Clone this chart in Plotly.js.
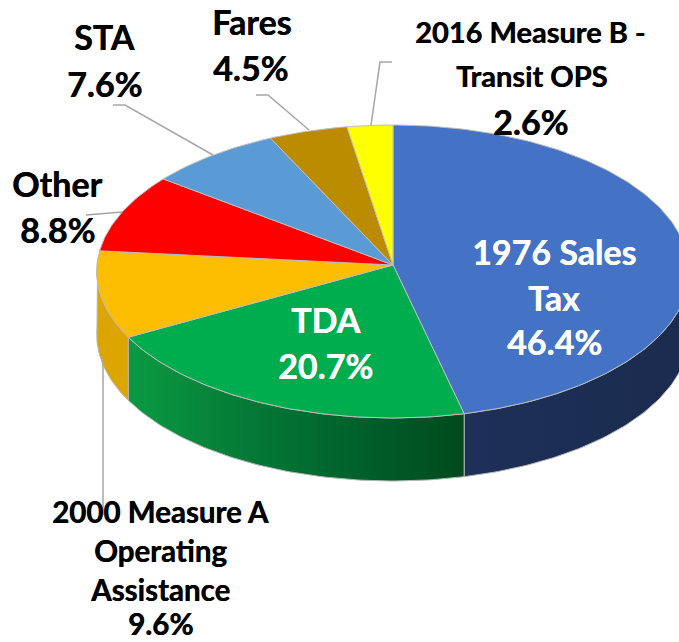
<!DOCTYPE html>
<html>
<head>
<meta charset="utf-8">
<script src="https://cdn.plot.ly/plotly-3.0.1.min.js"></script>
<style>html,body{margin:0;padding:0;background:#fff}</style>
</head>
<body>
<div id="chart" style="width:679px;height:642px"></div>
<script>
// Data, clockwise from 12 o'clock
const categories = ["1976 Sales Tax","TDA","2000 Measure A Operating Assistance","Other","STA","Fares","2016 Measure B - Transit OPS"];
const shares = [46.4,20.7,9.6,8.8,7.6,4.5,2.6];
const topColors = ["#4472C4","#00AD4E","#FDBD00","#FF0000","#5B9BD5","#BC8C00","#FFFF00"];

// Which slices show a rim wall, and its shading
const wallSlices = [0,1,2];
const wallLimit = {0:[88,null],1:[null,null],2:[null,272]};
const wallScales = {
  0:[[0,"#1E3058"],[1,"#1A2B4E"]],
  1:[[0,"#0B9A42"],[0.35,"#047A36"],[0.7,"#005F2B"],[1,"#004A1E"]],
  2:[[0,"#DDA500"],[1,"#DDA500"]]
};

// Projection of the tilted disc, in page pixels
const apex = {x:393,y:265}, radiusX = 296, radiusY = 146.2, perspective = 0.0444, depth = 63;
function rim(deg){
  const t = deg*Math.PI/180, u = Math.sin(t), v = -Math.cos(t), w = 1-perspective*v;
  return [apex.x+radiusX*u/w, apex.y+radiusY*v/w];
}
function arc(a,b){
  const pts=[], n=Math.max(2,Math.ceil(Math.abs(b-a)));
  for(let i=0;i<=n;i++) pts.push(rim(a+(b-a)*i/n));
  return pts;
}

const total = shares.reduce((s,v)=>s+v,0);
let cum = 0;
const bounds = shares.map(v=>{const a=cum/total*360; cum+=v; return [a,cum/total*360];});

const traces = [];
// walls
wallSlices.forEach(i=>{
  const a = wallLimit[i][0]===null?bounds[i][0]:wallLimit[i][0];
  const b = wallLimit[i][1]===null?bounds[i][1]:wallLimit[i][1];
  const top = arc(a,b), low = top.slice().reverse().map(p=>[p[0],p[1]+depth]);
  const poly = top.concat(low); poly.push(top[0]);
  const xs = poly.map(p=>p[0]);
  traces.push({type:"scatter",mode:"lines",x:xs,y:poly.map(p=>p[1]),fill:"toself",
    fillgradient:{type:"horizontal",colorscale:wallScales[i],start:Math.min(...xs),stop:Math.max(...xs)},
    line:{color:"#B4B4B4",width:1},hoverinfo:"skip",showlegend:false});
});
// top faces
shares.forEach((v,i)=>{
  const poly=[[apex.x,apex.y]].concat(arc(bounds[i][0],bounds[i][1]));
  poly.push([apex.x,apex.y]);
  traces.push({type:"scatter",mode:"lines",name:categories[i],x:poly.map(p=>p[0]),y:poly.map(p=>p[1]),
    fill:"toself",fillcolor:topColors[i],line:{color:"#BDBDBD",width:1},
    text:categories[i]+" "+v+"%",hoverinfo:"text",showlegend:false});
});

// Leader lines
const leaders = [
  [[113,105],[125,105],[213,155]],
  [[256,95],[268,95],[309,130]],
  [[392,62],[380,62],[371,125]],
  [[86,215],[122,212]],
  [[103,515],[103,357]]
];
leaders.forEach(l=>traces.push({type:"scatter",mode:"lines",x:l.map(p=>p[0]),y:l.map(p=>p[1]),
  line:{color:"#A6A6A6",width:1.5},hoverinfo:"skip",showlegend:false}));

// Labels: text, centre x, centre y, size, colour
const labels = [
  ["2016 Measure B -",530,31,29,"#000"],
  ["Transit OPS",531,75,29,"#000"],
  ["2.6%",530,121,34,"#000"],
  ["Fares",252,21,34,"#000"],
  ["4.5%",250,67,34,"#000"],
  ["STA",104,36,34,"#000"],
  ["7.6%",104,83,34,"#000"],
  ["Other",57,183,34,"#000"],
  ["8.8%",57,229,34,"#000"],
  ["1976 Sales",554,251,34,"#fff"],
  ["Tax",554,297,34,"#fff"],
  ["46.4%",554,341,34,"#fff"],
  ["TDA",325,319,34,"#fff"],
  ["20.7%",325,365,34,"#fff"],
  ["2000 Measure A",160,511,29.5,"#000"],
  ["Operating",160,550,29.5,"#000"],
  ["Assistance",160,589,29.5,"#000"],
  ["9.6%",160,623,29.5,"#000"]
];
const annotations = labels.map(l=>({text:"<b>"+l[0]+"</b>",x:l[1],y:l[2],xref:"x",yref:"y",
  xanchor:"center",yanchor:"middle",showarrow:false,
  font:{family:"Lato, Carlito, sans-serif",size:l[3],color:l[4],shadow:"0.4px 0 0 "+l[4]}}));

const hidden = {visible:false,fixedrange:true};
Plotly.newPlot("chart",traces,{
  width:679,height:642,margin:{l:0,r:0,t:0,b:0},
  paper_bgcolor:"#fff",plot_bgcolor:"#fff",showlegend:false,
  xaxis:Object.assign({range:[0,679]},hidden),
  yaxis:Object.assign({range:[642,0]},hidden),
  annotations
},{displayModeBar:false});
</script>
</body>
</html>
